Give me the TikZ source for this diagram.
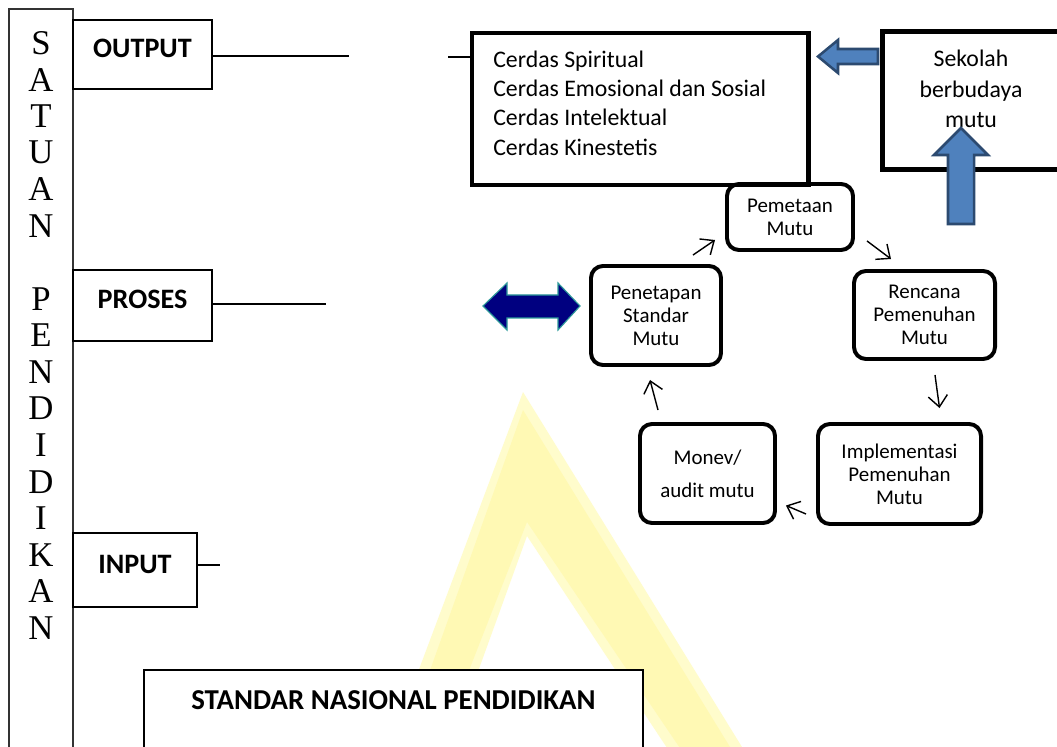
\documentclass[tikz,border=0pt]{standalone}
\usepackage{fontspec}
\setmainfont{Carlito}
\newfontfamily\serifletters{Liberation Serif}
\usetikzlibrary{arrows.meta,calc}
\definecolor{arrowblue}{HTML}{4F81BD}
\definecolor{arrowedge}{HTML}{2C4A70}
\definecolor{navyfill}{HTML}{000080}
\definecolor{navyedge}{HTML}{2E9A9A}
\definecolor{wmark}{HTML}{FFFCCC}
\definecolor{wmarkcore}{HTML}{FFF9B4}
\tikzset{
  level/.style={draw, line width=1.1pt, inner sep=0pt, text height=0.45cm, text depth=0.3cm,
    font=\fontsize{20pt}{24pt}\selectfont\bfseries},
  bigbox/.style={draw, line width=3.5pt, inner sep=0pt},
  cycbox/.style={draw, line width=2.8pt, rounded corners=0.3cm, align=center, inner sep=0pt,
    font=\fontsize{14.9pt}{16.4pt}\selectfont},
  cyc/.style={line width=1pt, -{Straight Barb[length=0.28cm,width=0.48cm]}},
  plain/.style={line width=1.1pt},
}
\begin{document}
\begin{tikzpicture}[x=0.025cm,y=-0.025cm]
\clip (0,0) rectangle (1057,747);
\fill[white] (0,0) rectangle (1057,747);
% watermark
\fill[wmark, even odd rule] (523,392) -- (750,760) -- (385,760) -- cycle
  (527,536) -- (675,760) -- (446,760) -- cycle;
\fill[wmarkcore, even odd rule] (523,410) -- (738,760) -- (398,760) -- cycle
  (527,522) -- (688,760) -- (434,760) -- cycle;

% left column
\node[draw, draw=black!80, line width=1.1pt, minimum width=1.6cm, minimum height=19.55cm] (satuan) at (41,400) {};
\foreach \ch/\k in {S/0,A/1,T/2,U/3,A/4,N/5,P/7,E/8,N/9,D/10,I/11,D/12,I/13,K/14,A/15,N/16}
  \node[inner sep=0pt, font=\serifletters\fontsize{24.7pt}{26pt}\selectfont] (ch\k) at (41,{43+36.56*\k}) {\ch};

\node[level, minimum width=3.475cm, minimum height=1.725cm] (output) at (142.5,54.5) {OUTPUT};
\node[level, minimum width=3.475cm, minimum height=1.775cm] (proses) at (142.5,305.5) {PROSES};
\node[level, minimum width=3.1cm, minimum height=1.85cm] (input) at (135,570) {INPUT};
\node[draw, fill=white, line width=1.1pt, anchor=north, minimum width=12.475cm, inner xsep=0pt,
  inner ysep=0.55cm, text height=0.45cm, text depth=1.2cm,
  font=\fontsize{20.5pt}{24pt}\selectfont\bfseries] (snp) at (393.5,669) {STANDAR NASIONAL PENDIDIKAN};

\coordinate (outend) at (349,56);
\coordinate (cerdasin) at (448,57);
\coordinate (prosend) at (326,304);
\coordinate (inend) at (220,565);

% output side
\node[bigbox, minimum width=8.4cm, minimum height=3.8cm] (cerdas) at (640,109) {};
\node[anchor=west, align=left, inner sep=0pt, font=\fontsize{16.9pt}{20.85pt}\selectfont] (cerdastxt) at (493,103)
  {Cerdas Spiritual\\Cerdas Emosional dan Sosial\\Cerdas Intelektual\\Cerdas Kinestetis};
\node[bigbox, minimum width=4.925cm, minimum height=3.45cm] (sekolah) at (981,100.5) {};
\node[align=center, inner sep=0pt, font=\fontsize{16.9pt}{21.5pt}\selectfont] (sekolahtxt) at (971,89)
  {Sekolah\\berbudaya\\mutu};

\draw[plain] (output.east |- outend) -- (outend);
\draw[plain] (cerdasin) -- (cerdas.west |- cerdasin);
\draw[plain] (proses.east |- prosend) -- (prosend);
\draw[plain] (input.east |- inend) -- (inend);

% cycle
\node[cycbox, minimum width=3.15cm, minimum height=1.65cm] (pemetaan) at (790,217) {Pemetaan\\Mutu};
\node[cycbox, minimum width=3.25cm, minimum height=2.475cm] (penetapan) at (656,315.5) {Penetapan\\Standar\\Mutu};
\node[cycbox, minimum width=3.525cm, minimum height=2.2cm] (rencana) at (924.5,315) {Rencana\\Pemenuhan\\Mutu};
\node[cycbox, minimum width=4.075cm, minimum height=2.5cm] (implementasi) at (899.5,474) {Implementasi\\Pemenuhan\\Mutu};
\node[cycbox, minimum width=3.375cm, minimum height=2.475cm] (monev) at (707.5,473.5) {Monev/\\[0.25cm]audit mutu};

\draw[cyc] ($(penetapan.north)+(37,-9)$) -- ($(pemetaan.south west)+(-10,-12)$);
\draw[cyc] ($(pemetaan.south east)+(12,-11)$) -- ($(rencana.north west)+(39,-10)$);
\draw[cyc] ($(rencana.south)+(10.5,14)$) -- ($(implementasi.north)+(40,-14)$);
\draw[cyc] ($(implementasi.west)+(-10,40)$) -- ($(monev.east)+(9,32)$);
\draw[cyc] ($(monev.north)+(-49.5,-12)$) -- ($(penetapan.south)+(-6,13)$);

% block arrows
\filldraw[fill=arrowblue, draw=arrowedge, line width=1.8pt]
  (818,56.5) -- (838,40) -- (838,49) -- (878,49) -- (878,64) -- (838,64) -- (838,73) -- cycle;
\filldraw[fill=arrowblue, draw=arrowedge, line width=1.8pt]
  (961,128) -- (988,155) -- (974,155) -- (974,224) -- (948,224) -- (948,155) -- (934,155) -- cycle;
\filldraw[fill=navyfill, draw=navyedge, line width=0.8pt]
  (483,306) -- (507,283) -- (507,295) -- (558,295) -- (558,283) -- (580,306)
  -- (558,330) -- (558,318) -- (507,318) -- (507,330) -- cycle;
\end{tikzpicture}
\end{document}
